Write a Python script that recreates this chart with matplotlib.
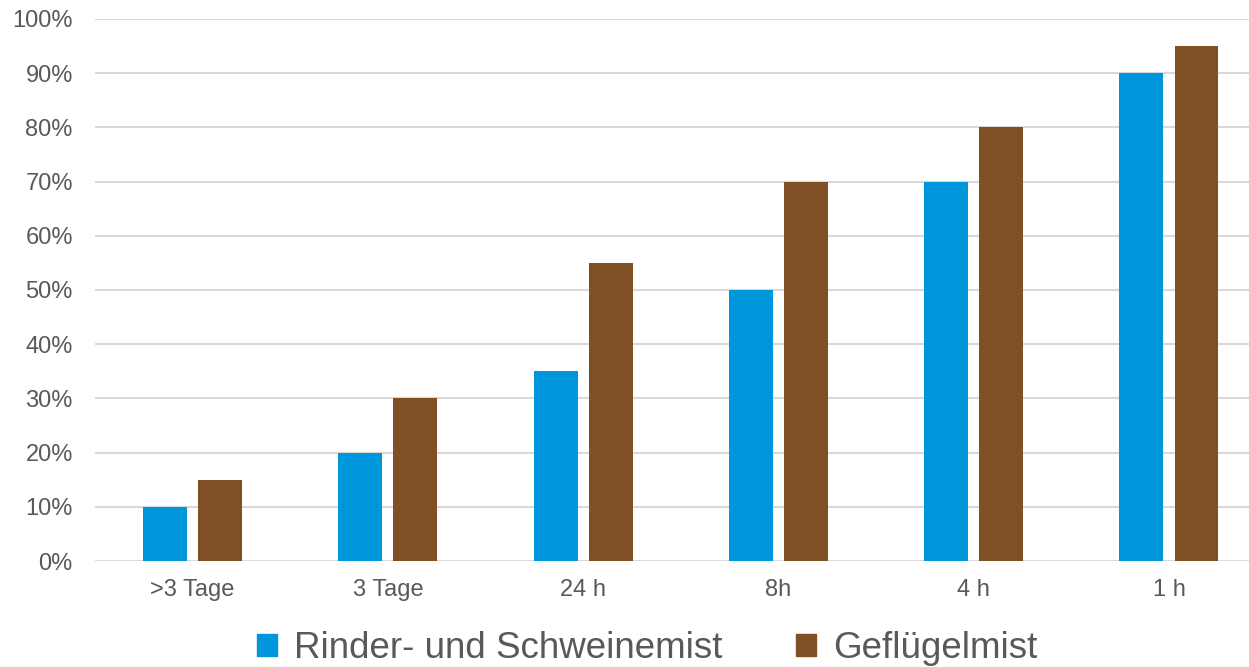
import matplotlib.pyplot as plt
import numpy as np
from matplotlib.patches import Patch
from matplotlib.ticker import PercentFormatter

plt.rcParams['font.family'] = ['Liberation Sans', 'DejaVu Sans']

# Data
categories = ['>3 Tage', '3 Tage', '24 h', '8h', '4 h', '1 h']
rinder_schwein = [10, 20, 35, 50, 70, 90]
gefluegel = [15, 30, 55, 70, 80, 95]
series_names = ['Rinder- und Schweinemist', 'Geflügelmist']

blue = '#0096DC'
brown = '#7F5023'
grey_text = '#595959'
grid_col = '#D9D9D9'

fig = plt.figure(figsize=(12.49, 6.67), dpi=100)
ax = fig.add_axes([95 / 1249, 1 - 561 / 667, (1249 - 95) / 1249, (561 - 19) / 667])

x = np.arange(len(categories))
w = 0.225
off = 0.141
ax.bar(x - off, rinder_schwein, width=w, color=blue, zorder=3)
ax.bar(x + off, gefluegel, width=w, color=brown, zorder=3)

ax.set_xlim(-0.5, 5.41)
ax.set_ylim(0, 100)
ax.set_yticks(np.arange(0, 101, 10))
ax.yaxis.set_major_formatter(PercentFormatter(decimals=0))
ax.set_xticks(x)
ax.set_xticklabels(categories)

ax.grid(axis='y', color=grid_col, linewidth=1.5, zorder=0)
ax.set_axisbelow(True)
for s in ax.spines.values():
    s.set_visible(False)
ax.tick_params(axis='both', length=0, colors=grey_text, labelsize=17)
ax.tick_params(axis='y', pad=16)
ax.tick_params(axis='x', pad=13)
ax.set_facecolor('none')

handles = [Patch(color=blue), Patch(color=brown)]
fig.legend(handles, series_names, loc='center', bbox_to_anchor=(0.518, 0.028),
           ncol=2, frameon=False, fontsize=26.5, labelcolor=grey_text,
           handlelength=0.55, handleheight=0.55, handletextpad=0.45,
           columnspacing=2.0)

fig.savefig('out.png', dpi=100)
